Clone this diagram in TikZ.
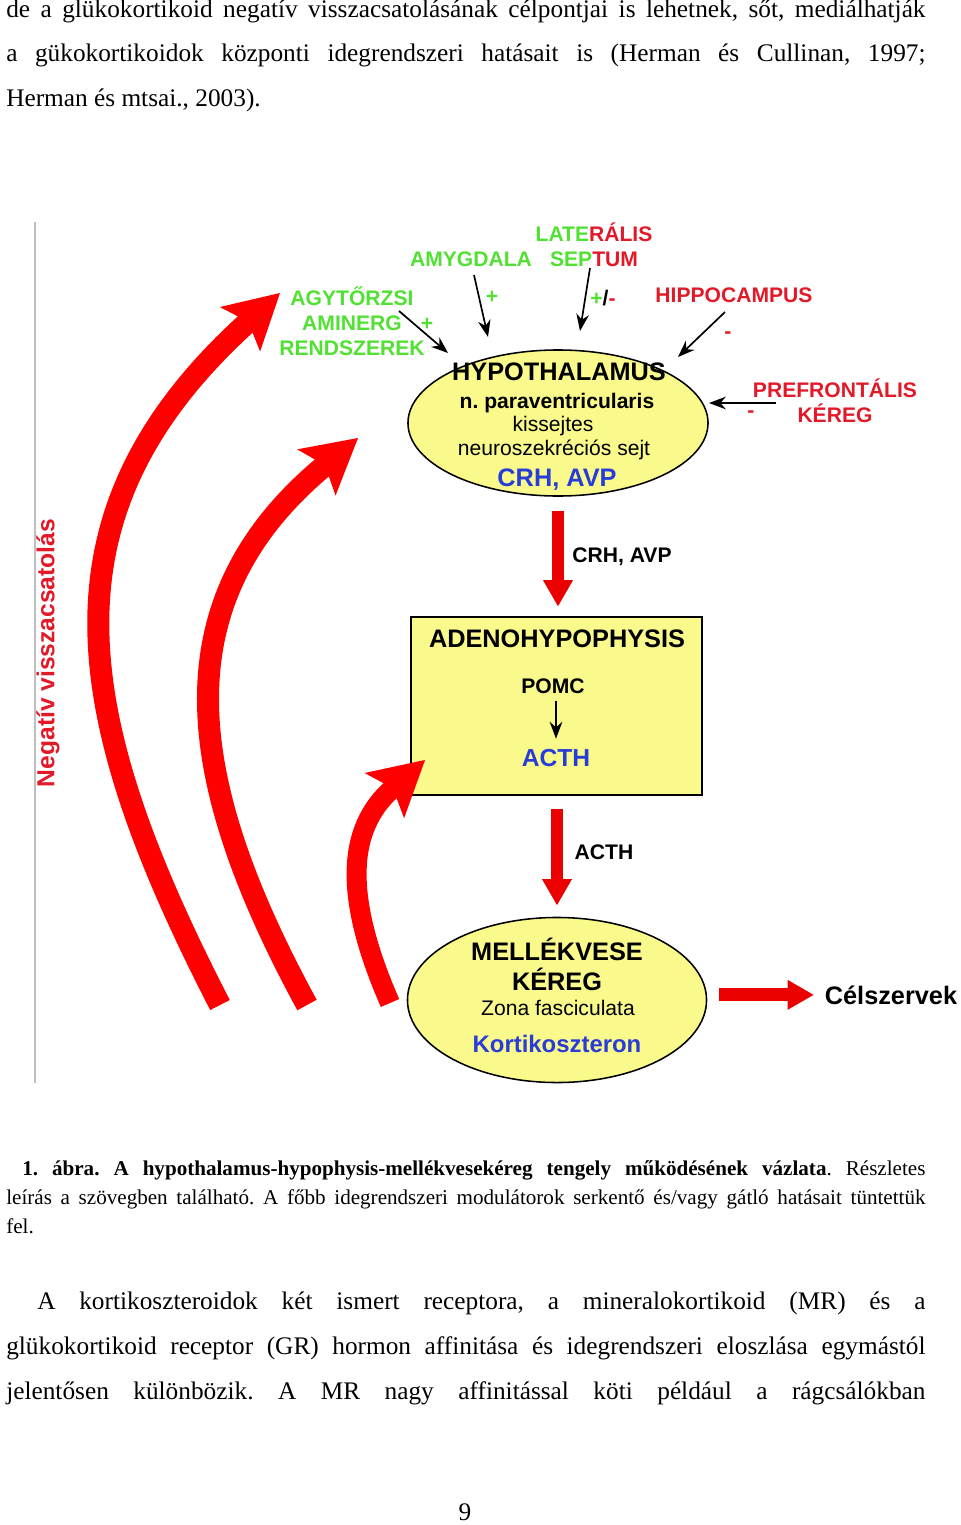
\documentclass[tikz,border=0pt]{standalone}
\usepackage{fontspec}
\setmainfont{Liberation Serif}
\newfontfamily\arial{Liberation Sans}
\usetikzlibrary{shapes.geometric,arrows.meta}
\frenchspacing
\definecolor{labgreen}{RGB}{80,225,50}
\definecolor{labred}{RGB}{225,25,40}
\definecolor{labblue}{RGB}{40,60,215}
\definecolor{organfill}{RGB}{250,250,140}
\definecolor{fbred}{RGB}{255,0,0}
\definecolor{hormred}{RGB}{235,0,0}
\tikzset{
  labtext/.style={font=\arial\bfseries\fontsize{15}{18}\selectfont, inner sep=0pt, anchor=base},
  greenlab/.style={labtext, text=labgreen},
  redlab/.style={labtext, text=labred},
  bigtext/.style={font=\arial\bfseries\fontsize{18}{21}\selectfont, inner sep=0pt, anchor=base},
  thintext/.style={font=\arial\fontsize{15}{18}\selectfont, inner sep=0pt, anchor=base},
  organ/.style={draw, line width=1.1pt, fill=organfill, inner sep=0pt},
  inarrow/.style={line width=1.2pt, -{Stealth[length=12pt, width=9pt]}},
  hormarrow/.style={hormred, line width=0.32cm, -{Triangle[length=0.65cm, width=0.75cm, line width=0pt]}},
  fbarrow/.style={fbred, line width=0.55cm, -{Stealth[length=1.35cm, width=1.5cm, inset=0.28cm, line width=0pt]}},
  bodyline/.style={font=\fontsize{18}{22}\selectfont, inner sep=0pt, anchor=mid west},
  captline/.style={font=\fontsize{15}{18}\selectfont, inner sep=0pt, anchor=mid west},
}
\begin{document}
\begin{tikzpicture}[x=0.025cm, y=-0.025cm]
    \useasboundingbox (0,0) rectangle (960,1525);
    % text before the figure
    \node[bodyline] (t1) at (6,14) {\makebox[22.975cm][s]{de a glükokortikoid negatív visszacsatolásának célpontjai is lehetnek, sőt, mediálhatják}};
    \node[bodyline] (t2) at (6,58) {\makebox[22.975cm][s]{a gükokortikoidok központi idegrendszeri hatásait is (Herman és Cullinan, 1997;}};
    \node[bodyline] (t3) at (6,103) {Herman és mtsai., 2003).};
    %
    \draw[gray!50, line width=0.8pt] (35,222) -- (35,1083);
    \node[redlab, font=\arial\bfseries\fontsize{17.5}{20}\selectfont, rotate=90, anchor=center] (neg) at (48,653) {Negatív visszacsatolás};
    %%%%%%%%%%%%%%%%%%%%%% organs
    \node[organ, ellipse, minimum width=7.5cm, minimum height=3.65cm] (hyp) at (558,423) {};
    \node[organ, rectangle, minimum width=7.275cm, minimum height=4.45cm] (adeno) at (556.5,706) {};
    \node[organ, ellipse, minimum width=7.475cm, minimum height=4.125cm] (mell) at (557,1000) {};
    %
    \node[bigtext] (hyptitle) at (559,380) {HYPOTHALAMUS};
    \node[labtext] (pvn) at (557,408) {n. paraventricularis};
    \node[thintext] (kis) at (553,431) {kissejtes};
    \node[thintext] (neuro) at (554,455) {neuroszekréciós sejt};
    \node[bigtext, text=labblue] (crh) at (557,486) {CRH, AVP};
    %
    \node[bigtext] (adtitle) at (557,647) {ADENOHYPOPHYSIS};
    \node[labtext] (pomc) at (553,693) {POMC};
    \node[bigtext, text=labblue, font=\arial\bfseries\fontsize{17.5}{20}\selectfont] (acth) at (556,766) {ACTH};
    \draw[inarrow, shorten <=5pt, shorten >=7pt] (acth.north |- pomc.south) -- (acth.north);
    %
    \node[bigtext] (mtitle) at (557,960) {MELLÉKVESE};
    \node[bigtext] (mker) at (557,990) {KÉREG};
    \node[thintext] (zona) at (558,1015) {Zona fasciculata};
    \node[bigtext, text=labblue, font=\arial\bfseries\fontsize{17}{20}\selectfont] (kort) at (557,1052) {Kortikoszteron};
    %%%%%%%%%%%%%%%%%%%%%% hormone arrows
    \draw[hormarrow, shorten <=0.35cm, shorten >=0.25cm] (hyp.south) -- (hyp.south |- adeno.north);
    \node[labtext] (crhlab) at (622,562) {CRH, AVP};
    \draw[hormarrow, shorten <=0.325cm, shorten >=0.29cm] (adeno.south -| mell.north) -- (mell.north);
    \node[labtext] (acthlab) at (604,859) {ACTH};
    \node[bigtext] (cel) at (891,1004) {Célszervek};
    \draw[hormarrow, shorten <=0.29cm, shorten >=0.275cm] (cel.west -| mell.east) -- (cel.west);
    %%%%%%%%%%%%%%%%%%%%%% modulators
    \node[greenlab] (lat) at (594,241) {LATE\textcolor{labred}{RÁLIS}};
    \node[greenlab] (sep) at (594,266) {SEP\textcolor{labred}{TUM}};
    \node[greenlab] (amy) at (471,266) {AMYGDALA};
    \node[greenlab] (agy) at (352,305) {AGYTŐRZSI};
    \node[greenlab] (amin) at (352,330) {AMINERG};
    \node[greenlab] (rend) at (352,355) {RENDSZEREK};
    \node[greenlab] (plusagy) at (427,330) {+};
    \node[greenlab] (plusamy) at (492,303) {+};
    \node[greenlab] (plussep) at (603,305) {+\textcolor{black}{/}\textcolor{labred}{-}};
    \node[redlab] (hip) at (734,302) {HIPPOCAMPUS};
    \node[redlab] (minhip) at (728,338) {-};
    \node[redlab] (pfc) at (835,397) {PREFRONTÁLIS};
    \node[redlab] (pker) at (835,422) {KÉREG};
    \node[redlab] (minpfc) at (751,417) {-};
    %
    \coordinate (agyfrom) at (399,311);
    \coordinate (agyto) at (448,353);
    \coordinate (amyfrom) at (474,275);
    \coordinate (amyto) at (488,337);
    \coordinate (sepfrom) at (590,268);
    \coordinate (septo) at (580,331);
    \coordinate (hipfrom) at (725,312);
    \coordinate (hipto) at (678,357);
    \coordinate (pfcfrom) at (776,403);
    \coordinate (pfcto) at (709,403);
    \draw[inarrow] (agyfrom) -- (agyto);
    \draw[inarrow] (amyfrom) -- (amyto);
    \draw[inarrow] (sepfrom) -- (septo);
    \draw[inarrow] (hipfrom) -- (hipto);
    \draw[inarrow] (pfcfrom) -- (pfcto);
    %%%%%%%%%%%%%%%%%%%%%% negative feedback
    \coordinate (fbtail1) at (220,1005);
    \coordinate (fbhead1) at (280,293);
    \coordinate (fbtail2) at (307,1005);
    \coordinate (fbhead2) at (358,438);
    \coordinate (fbtail3) at (390,1003);
    \coordinate (fbhead3) at (425,760);
    \draw[fbarrow] (fbtail1) .. controls (69,712) and (37,513) .. (fbhead1);
    \draw[fbarrow] (fbtail2) .. controls (184,779) and (160,602) .. (fbhead2);
    \draw[fbarrow, line width=0.5cm] (fbtail3) .. controls (345,900) and (345,830) .. (fbhead3);
    %%%%%%%%%%%%%%%%%%%%%% caption
    \node[captline] (c1) at (22,1172) {\makebox[22.575cm][s]{\textbf{1. ábra. A hypothalamus-hypophysis-mellékvesekéreg tengely működésének vázlata}. Részletes}};
    \node[captline] (c2) at (6,1201) {\makebox[22.975cm][s]{leírás a szövegben található. A főbb idegrendszeri modulátorok serkentő és/vagy gátló hatásait tüntettük}};
    \node[captline] (c3) at (6,1230) {fel.};
    %%%%%%%%%%%%%%%%%%%%%% text after the figure
    \node[bodyline] (p1) at (37,1306) {\makebox[22.2cm][s]{A kortikoszteroidok két ismert receptora, a mineralokortikoid (MR) és a}};
    \node[bodyline] (p2) at (6,1351) {\makebox[22.975cm][s]{glükokortikoid receptor (GR) hormon affinitása és idegrendszeri eloszlása egymástól}};
    \node[bodyline] (p3) at (6,1396) {\makebox[22.975cm][s]{jelentősen különbözik. A MR nagy affinitással köti például a rágcsálókban}};
    \node[bodyline, anchor=center] (pnum) at (465,1512) {9};
\end{tikzpicture}
\end{document}
